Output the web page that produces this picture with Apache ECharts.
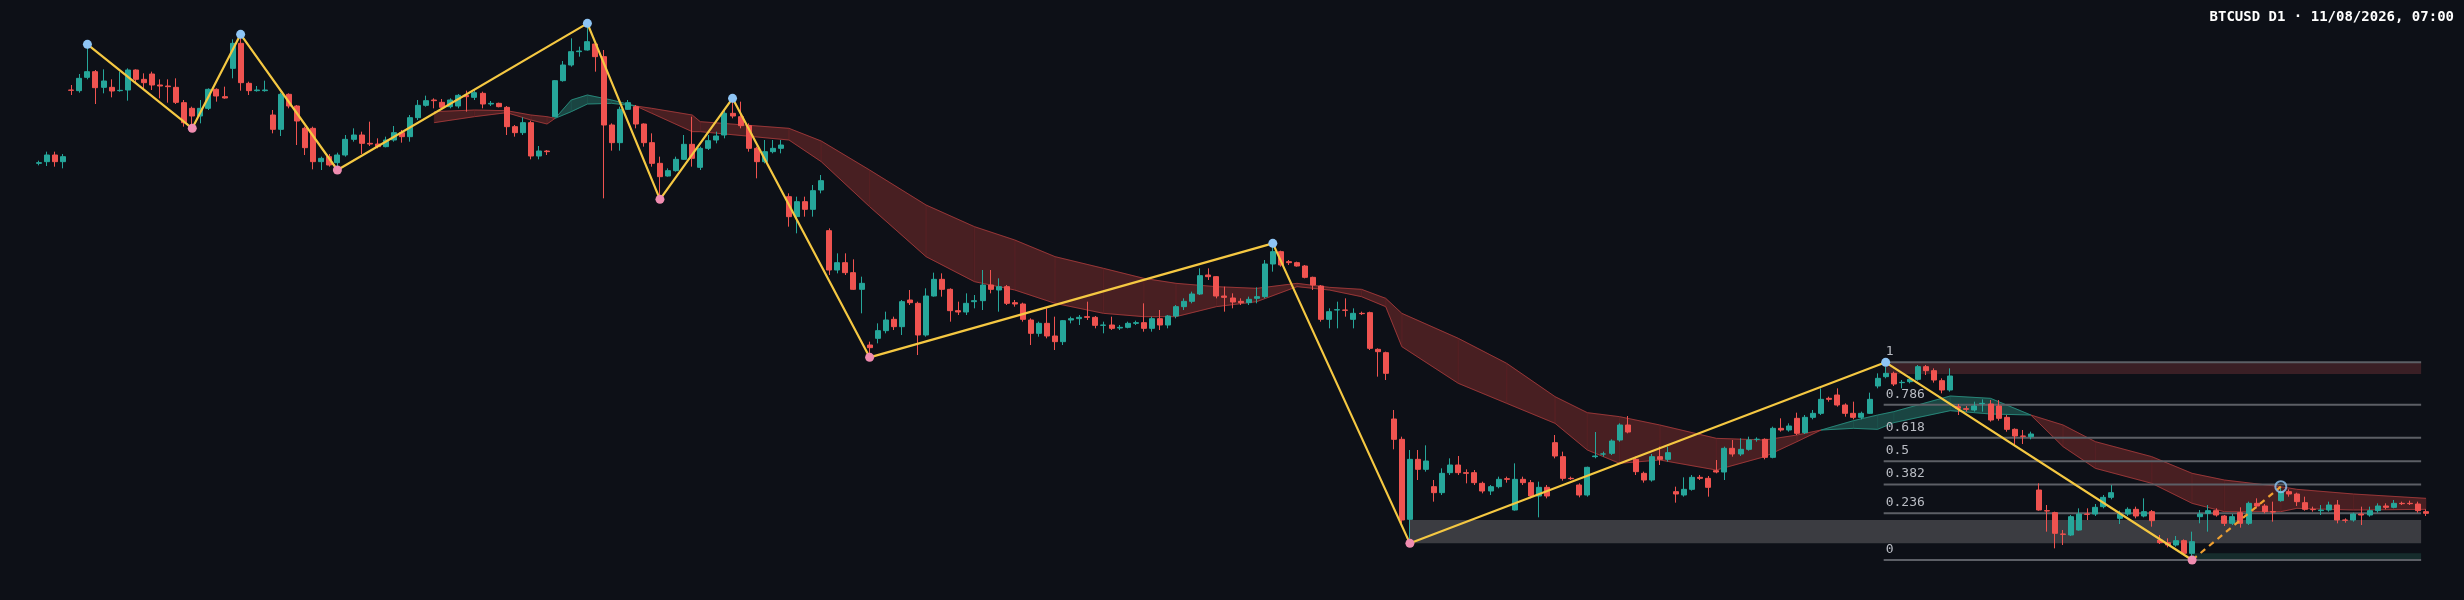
<!DOCTYPE html>
<html><head><meta charset="utf-8">
<script src="https://cdn.jsdelivr.net/npm/echarts@6/dist/echarts.min.js"></script>
<style>html,body{margin:0;padding:0;background:#0d1017;}#c{width:2464px;height:600px;}</style>
</head><body><div id="c"></div>
<script>
// values in chart units (inverted price scale)
const candles = [
[490,488,482,496],[485,465,455,498],[465,485,455,500],[485,470,462,505],[270,271,255,285],[272,235,222,278],[232,215,133,238],[215,263,210,312],[262,243,208,280],[262,273,238,292],
[272,271,215,275],[270,210,205,302],[210,238,208,250],[238,248,220,270],[222,255,215,270],[255,258,238,295],[258,260,238,308],[262,307,235,312],[308,368,300,380],[325,348,320,385],
[348,325,300,370],[325,268,265,330],[268,288,265,305],[290,294,260,296],[205,130,118,235],[130,248,103,272],[250,272,245,285],[272,270,258,275],[272,270,242,275],[345,388,330,400],
[388,283,278,408],[283,318,280,325],[318,363,315,435],[385,443,380,465],[385,485,380,508],[485,475,470,510],[470,495,462,500],[488,465,458,510],[465,418,405,470],[418,405,385,425],
[405,430,395,462],[430,432,365,438],[432,440,415,445],[440,420,410,442],[420,398,378,425],[398,410,390,428],[410,353,345,425],[353,316,300,360],[316,302,287,320],[300,302,295,325],
[307,322,297,325],[320,300,295,325],[318,286,282,325],[286,290,272,335],[292,278,270,300],[280,312,275,325],[312,310,303,318],[310,320,308,322],[322,380,318,405],[380,398,375,410],
[398,368,352,405],[368,468,362,478],[468,453,438,478],[453,455,450,465],[350,242,240,352],[242,195,183,245],[195,155,115,200],[155,153,140,170],[150,125,70,152],[132,170,130,215],
[170,375,150,595],[375,428,370,452],[428,328,320,452],[328,308,300,330],[320,372,315,385],[372,428,370,440],[428,490,400,500],[490,530,470,598],[528,512,505,530],[512,478,470,515],
[478,433,405,480],[433,475,350,500],[502,445,440,510],[445,422,405,450],[420,408,395,430],[405,340,330,415],[340,348,295,355],[350,377,305,385],[377,445,370,455],[445,485,440,535],
[485,455,420,490],[455,445,420,460],[445,435,420,460],[590,650,580,680],[650,605,590,700],[605,628,590,650],[628,572,555,650],[570,542,525,580],[692,810,685,825],[810,788,760,820],
[788,818,760,825],[818,868,778,870],[868,850,830,940],[1035,1043,1025,1072],[1015,992,970,1030],[992,960,935,1000],[958,980,950,990],[980,905,900,1005],[900,908,870,915],[910,1005,905,1065],
[1005,888,865,1010],[888,838,818,890],[838,868,820,890],[868,932,865,965],[932,936,905,945],[936,910,880,945],[905,902,885,925],[902,855,810,930],[855,868,810,880],[870,860,835,935],
[860,910,855,915],[908,912,900,920],[912,958,908,965],[960,1000,955,1035],[1000,970,965,1010],[970,1008,925,1015],[1008,1025,950,1050],[1025,962,960,1035],[960,956,950,970],[956,952,945,975],
[950,952,905,960],[952,976,948,985],[976,975,965,1000],[975,985,950,990],[984,982,975,990],[982,970,965,985],[970,968,962,975],[968,985,910,995],[985,956,950,995],[956,975,930,990],
[975,948,945,985],[948,920,915,955],[920,904,895,930],[904,882,875,910],[882,827,805,885],[825,830,805,840],[830,888,828,895],[888,892,860,935],[894,906,880,925],[904,908,895,915],
[908,898,890,915],[895,890,862,910],[890,792,780,895],[792,755,730,815],[755,795,752,800],[785,788,780,795],[788,798,785,800],[798,832,795,835],[832,855,830,870],[858,958,855,965],
[958,935,925,985],[930,929,905,985],[930,931,895,950],[958,940,925,985],[940,941,935,945],[938,1045,935,1050],[1048,1055,1045,1130],[1058,1120,1055,1140],[1257,1318,1230,1348],[1318,1560,1310,1570],
[1558,1378,1350,1630],[1378,1408,1350,1440],[1408,1383,1336,1415],[1460,1478,1440,1505],[1478,1420,1405,1485],[1418,1395,1375,1425],[1395,1418,1368,1425],[1418,1420,1408,1450],[1418,1448,1410,1455],[1450,1473,1445,1480],
[1473,1460,1455,1485],[1460,1438,1430,1465],[1436,1438,1430,1448],[1530,1438,1390,1532],[1438,1448,1430,1455],[1448,1488,1440,1495],[1488,1462,1445,1552],[1462,1488,1455,1495],[1328,1368,1305,1375],[1370,1435,1355,1442],
[1435,1436,1430,1440],[1455,1485,1450,1492],[1485,1402,1400,1490],[1370,1368,1296,1375],[1362,1362,1355,1370],[1360,1323,1318,1365],[1320,1275,1270,1325],[1275,1296,1248,1300],[1378,1415,1370,1425],[1420,1440,1415,1448],
[1440,1370,1362,1445],[1370,1378,1340,1395],[1378,1358,1340,1385],[1475,1482,1460,1508],[1485,1468,1432,1490],[1468,1432,1425,1472],[1432,1435,1425,1440],[1435,1462,1428,1490],[1412,1416,1380,1420],[1416,1345,1340,1440],
[1345,1362,1320,1370],[1362,1348,1315,1368],[1348,1320,1310,1352],[1318,1318,1312,1325],[1318,1372,1315,1378],[1372,1285,1280,1375],[1285,1290,1255,1295],[1290,1278,1270,1295],[1255,1300,1238,1305],[1298,1252,1245,1302],
[1252,1240,1230,1258],[1240,1198,1165,1245],[1195,1198,1190,1205],[1185,1215,1165,1220],[1215,1240,1210,1250],[1240,1252,1205,1258],[1252,1240,1235,1258],[1240,1198,1178,1242],[1158,1135,1120,1165],[1130,1120,1100,1135],
[1120,1152,1115,1158],[1148,1147,1140,1165],[1145,1138,1130,1150],[1138,1100,1095,1142],[1100,1112,1095,1125],[1112,1140,1105,1148],[1142,1170,1135,1180],[1170,1128,1105,1175],[1220,1225,1212,1245],[1226,1228,1218,1235],
[1230,1218,1205,1235],[1211,1210,1198,1235],[1212,1260,1200,1265],[1218,1255,1200,1262],[1252,1288,1245,1295],[1288,1308,1285,1335],[1308,1309,1290,1332],[1310,1302,1295,1318],[1470,1530,1450,1532],[1532,1533,1515,1595],
[1538,1600,1535,1645],[1602,1603,1590,1635],[1605,1550,1545,1608],[1590,1542,1525,1592],[1542,1543,1525,1560],[1542,1522,1512,1548],[1520,1492,1485,1525],[1492,1478,1455,1498],[1555,1542,1532,1572],[1542,1528,1522,1548],
[1528,1548,1520,1555],[1548,1535,1495,1552],[1535,1562,1530,1580],[1620,1628,1605,1632],[1628,1635,1615,1642],[1635,1622,1608,1640],[1622,1660,1618,1665],[1660,1625,1595,1680],[1550,1542,1530,1570],[1540,1532,1515,1595],
[1532,1545,1525,1550],[1548,1570,1545,1578],[1570,1550,1542,1575],[1538,1570,1522,1583],[1570,1510,1505,1575],[1510,1518,1495,1525],[1518,1535,1512,1540],[1535,1536,1505,1565],[1502,1475,1460,1505],[1475,1482,1468,1490],
[1482,1505,1478,1518],[1508,1528,1490,1532],[1528,1529,1520,1535],[1532,1530,1515,1545],[1530,1515,1505,1535],[1515,1560,1500,1570],[1560,1561,1555,1568],[1560,1542,1538,1565],[1542,1545,1520,1575],[1545,1532,1520,1550],
[1532,1518,1510,1538],[1518,1522,1510,1528],[1522,1510,1500,1525],[1510,1511,1505,1515],[1510,1511,1502,1515],[1512,1532,1505,1538],[1535,1540,1528,1548]
];
// EMA cloud samples: [index, fast, slow]
const emaCloud = [
[49,368,335],[54,350,330],[58,338,332],[61,360,345],[63,372,350],[64,355,355],[66,300,335],[68,285,312],[71,300,310],[74,318,318],
[76,340,325],[81,395,345],[82,395,365],[93,420,385],[97,485,423],[103,620,510],[110,770,615],[116,845,680],[121,870,720],[126,910,770],
[132,940,805],[137,950,835],[141,950,850],[146,920,860],[151,905,865],[156,860,850],[160,870,862],[164,890,868],[167,920,895],[169,1040,940],
[176,1150,1015],[182,1210,1090],[188,1270,1190],[192,1350,1238],[196,1390,1250],[201,1380,1275],[208,1410,1315],[214,1370,1320],[218,1325,1305],[221,1290,1290],
[225,1262,1285],[228,1245,1288],[230,1235,1268],[237,1188,1232],[242,1195,1242],[247,1245,1245],[251,1340,1275],[255,1405,1325],[262,1450,1370],[267,1510,1420],
[271,1535,1440],[278,1535,1460],[280,1525,1468],[287,1530,1482],[296,1528,1495]
];
const pivots = [[6,133],[19,385],[25,103],[37,510],[68,70],[77,598],[86,295],[103,1072],[153,730],[170,1630],[229,1087],[267,1680]];
const pivotHigh = [true,false,true,false,true,false,true,false,true,false,true,false];
const projection = [[267,1680],[278,1460]];
const fibHigh = 1087, fibLow = 1680, fibStart = 229;
const fibRatios = [0,0.236,0.382,0.5,0.618,0.786,1];
const fibLabels = ['0','0.236','0.382','0.5','0.618','0.786','1'];
// zones: [startIndex, top, bottom]
const zones = [[229,1087,1122],[170,1560,1630],[267,1660,1678]];
const zoneColors = ['#3a1f25','#3b3c41','#162c2c'];
const title = 'BTCUSD D1 · 11/08/2026, 07:00';
const categories = candles.map((_, i) => { const d = new Date(Date.UTC(2025,0,20) + i*86400000); return d.toISOString().slice(0,10); });
const lastIdx = candles.length - 1;

const chart = echarts.init(document.getElementById('c'));
function xEnd(api){ return api.coord([lastIdx,0])[0] - 0.6*api.size([1,0])[0]; }
chart.setOption({
  backgroundColor:'#0d1017',
  animation:false,
  grid:{left:35,right:34,top:0,bottom:0},
  xAxis:{type:'category',data:categories,show:false,boundaryGap:true},
  yAxis:{type:'value',min:0,max:1800,inverse:true,show:false},
  graphic:[{type:'text',right:10,top:10,style:{text:title,fill:'#ffffff',font:'bold 14px "DejaVu Sans Mono"'}}],
  series:[
    {type:'custom',z:1,data:zones,renderItem:function(p,api){
      const z=zones[p.dataIndex];
      const a=api.coord([z[0],z[1]]), b=api.coord([z[0],z[2]]);
      const x0=a[0];
      return {type:'rect',shape:{x:x0,y:a[1],width:xEnd(api)-x0,height:b[1]-a[1]},style:{fill:zoneColors[p.dataIndex]}};
    }},
    {type:'custom',z:2,data:emaCloud.slice(0,-1).map((d,i)=>[d[0],d[1],d[2]]),renderItem:function(p,api){
      const a=emaCloud[p.dataIndex], b=emaCloud[p.dataIndex+1];
      const diff=(a[1]-a[2])+(b[1]-b[2]);
      const bear=diff>=0;
      const f0=api.coord([a[0],a[1]]), s0=api.coord([a[0],a[2]]), f1=api.coord([b[0],b[1]]), s1=api.coord([b[0],b[2]]);
      const edge=bear?'rgba(170,60,60,0.8)':'rgba(40,140,125,0.9)';
      return {type:'group',children:[
        {type:'polygon',shape:{points:[f0,f1,s1,s0]},style:{fill:bear?'rgba(110,40,42,0.62)':'rgba(35,105,95,0.6)',stroke:bear?'rgba(110,40,42,0.62)':'rgba(35,105,95,0.6)',lineWidth:0.5}},
        {type:'line',shape:{x1:f0[0],y1:f0[1],x2:f1[0],y2:f1[1]},style:{stroke:edge,lineWidth:1}},
        {type:'line',shape:{x1:s0[0],y1:s0[1],x2:s1[0],y2:s1[1]},style:{stroke:edge,lineWidth:1}}
      ]};
    }},
    {type:'custom',z:3,data:fibRatios.map((r,i)=>[fibStart,fibLow-r*(fibLow-fibHigh)]),renderItem:function(p,api){
      const v=fibLow-fibRatios[p.dataIndex]*(fibLow-fibHigh);
      const a=api.coord([fibStart,v]); const x0=a[0]-2;
      return {type:'group',children:[
        {type:'line',shape:{x1:x0,y1:a[1],x2:xEnd(api),y2:a[1]},style:{stroke:'#5c5f66',lineWidth:2}},
        {type:'text',x:x0+2,y:a[1]-4,style:{text:fibLabels[p.dataIndex],fill:'#b9bcc3',font:'13px "DejaVu Sans Mono"',textVerticalAlign:'bottom'}}
      ]};
    }},
    {type:'candlestick',z:4,data:candles,barWidth:5.5,
      itemStyle:{color:'#ef5350',color0:'#26a69a',borderColor:'#ef5350',borderColor0:'#26a69a',borderWidth:1}},
    {type:'line',z:5,data:pivots,symbol:'circle',symbolSize:9,showSymbol:true,showAllSymbol:true,lineStyle:{color:'#f5c842',width:2.2},
      itemStyle:{color:function(p){return pivotHigh[p.dataIndex]?'#8ec5f5':'#f08cb0';}}},
    {type:'line',z:5,data:projection,symbol:'none',lineStyle:{color:'#f0a030',width:2.2,type:[6,5]}},
    {type:'scatter',z:6,data:[projection[1]],symbol:'circle',symbolSize:11,itemStyle:{color:'rgba(0,0,0,0)',borderColor:'#8ec5f5',borderWidth:2}}
  ]
});
</script></body></html>
